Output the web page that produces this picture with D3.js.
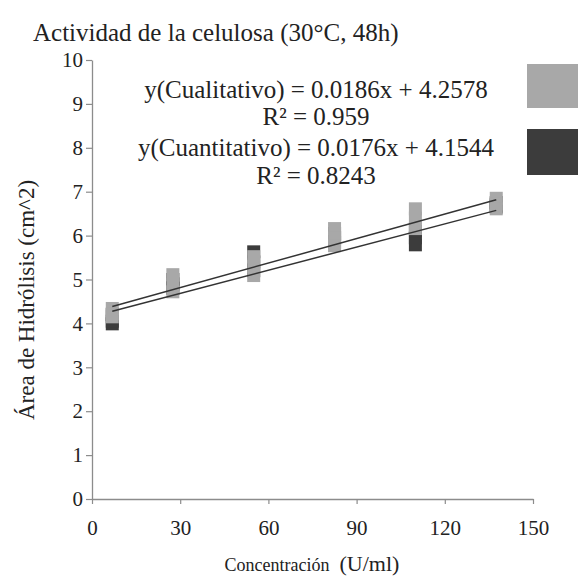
<!DOCTYPE html>
<html>
<head>
<meta charset="utf-8">
<script src="https://d3js.org/d3.v7.min.js"></script>
<style>
  body { margin: 0; background: #fff; }
  text { font-family: "Liberation Serif", "Times New Roman", serif; }
</style>
</head>
<body>
<div id="chart"></div>
<script>
// data
var concentracion = [6.9, 27.5, 55, 82.5, 110, 137.5];
var cualitativo = [
  [4.34, 4.22, 4.15],
  [5.11, 4.9, 4.72],
  [5.52, 5.3, 5.09],
  [6.16, 5.95, 5.77],
  [6.61, 6.4, 6.16],
  [6.85, 6.72, 6.61]
];
var cuantitativo = [
  [3.99, 4.05, 4.2],
  [4.8, 4.9, 5.0],
  [5.63, 5.4, 5.2],
  [5.85, 5.95, 6.05],
  [5.79, 5.95, 6.1],
  [6.65, 6.7, 6.75]
];
var xTicks = [0, 30, 60, 90, 120, 150];
var yTicks = [0, 1, 2, 3, 4, 5, 6, 7, 8, 9, 10];
var fitCuali = { m: 0.0186, b: 4.2578 };
var fitCuanti = { m: 0.0176, b: 4.1544 };

var svgWidth = 578;
var svgHeight = 578;

var margin = { top: 60, right: 45, bottom: 79, left: 92 };
var width = svgWidth - margin.left - margin.right;
var height = svgHeight - margin.top - margin.bottom;

var lightColor = "#a8a8a8";
var darkColor = "#3c3c3c";
var markerSize = 13;

var svg = d3.select("#chart")
  .append("svg")
  .attr("width", svgWidth)
  .attr("height", svgHeight);

var chartGroup = svg.append("g")
  .attr("transform", `translate(${margin.left}, ${margin.top})`);

var xScale = d3.scaleLinear().domain([0, 150]).range([0, width]);
var yScale = d3.scaleLinear().domain([0, 10]).range([height, 0]);

// axes
var bottomAxis = d3.axisBottom(xScale).tickValues(xTicks).tickSize(5).tickSizeOuter(0);
var leftAxis = d3.axisLeft(yScale).tickValues(yTicks).tickSize(6).tickSizeOuter(0);

var xAxis = chartGroup.append("g")
  .attr("transform", `translate(0, ${height})`)
  .call(bottomAxis);

var yAxis = chartGroup.append("g")
  .call(leftAxis);

[xAxis, yAxis].forEach(function(ax) {
  ax.select(".domain").attr("stroke", "#8c8c8c").attr("stroke-width", 1.3);
  ax.selectAll(".tick line").attr("stroke", "#8c8c8c").attr("stroke-width", 1.2);
  ax.selectAll(".tick text")
    .attr("fill", "#222")
    .style("font-size", "21px")
    .style("font-family", "Liberation Serif, serif");
});
xAxis.selectAll(".tick text").attr("dy", "1.35em");
yAxis.selectAll(".tick text").attr("x", -9);

// flatten the points: one row per marker
function toPoints(values) {
  var pts = [];
  concentracion.forEach(function(x, i) {
    values[i].forEach(function(v) { pts.push({ x: x, y: v }); });
  });
  return pts;
}

// Cuantitativo drawn first, Cualitativo on top
chartGroup.append("g").selectAll("rect")
  .data(toPoints(cuantitativo))
  .enter()
  .append("rect")
  .attr("x", d => xScale(d.x) - markerSize / 2)
  .attr("y", d => yScale(d.y) - markerSize / 2)
  .attr("width", markerSize)
  .attr("height", markerSize)
  .attr("fill", darkColor);

chartGroup.append("g").selectAll("rect")
  .data(toPoints(cualitativo))
  .enter()
  .append("rect")
  .attr("x", d => xScale(d.x) - markerSize / 2)
  .attr("y", d => yScale(d.y) - markerSize / 2)
  .attr("width", markerSize)
  .attr("height", markerSize)
  .attr("fill", lightColor);

// trend lines
var xMin = d3.min(concentracion);
var xMax = d3.max(concentracion);
[fitCuali, fitCuanti].forEach(function(f) {
  chartGroup.append("line")
    .attr("x1", xScale(xMin))
    .attr("y1", yScale(f.m * xMin + f.b))
    .attr("x2", xScale(xMax))
    .attr("y2", yScale(f.m * xMax + f.b))
    .attr("stroke", "#333")
    .attr("stroke-width", 1.5);
});

// equations
var eqLines = [
  { t: "y(Cualitativo) = 0.0186x + 4.2578", y: 98 },
  { t: "R² = 0.959", y: 125 },
  { t: "y(Cuantitativo) = 0.0176x + 4.1544", y: 156 },
  { t: "R² = 0.8243", y: 184 }
];
svg.append("g").selectAll("text")
  .data(eqLines)
  .enter()
  .append("text")
  .attr("x", 316)
  .attr("y", d => d.y)
  .attr("text-anchor", "middle")
  .attr("fill", "#222")
  .style("font-size", "25px")
  .text(d => d.t);

// legend swatches, cut off by the right edge
svg.append("rect")
  .attr("x", 527).attr("y", 64)
  .attr("width", 60).attr("height", 44)
  .attr("fill", lightColor);
svg.append("rect")
  .attr("x", 527).attr("y", 129)
  .attr("width", 60).attr("height", 46)
  .attr("fill", darkColor);

// title
svg.append("text")
  .attr("x", 33)
  .attr("y", 41)
  .attr("fill", "#222")
  .style("font-size", "25px")
  .text("Actividad de la celulosa (30°C, 48h)");

// y axis label
svg.append("text")
  .attr("transform", "translate(34, 300) rotate(-90)")
  .attr("text-anchor", "middle")
  .attr("fill", "#222")
  .style("font-size", "23px")
  .text("Área de Hidrólisis (cm^2)");

// x axis label
var xLabel = svg.append("text")
  .attr("x", 312)
  .attr("y", 571)
  .attr("text-anchor", "middle")
  .attr("fill", "#222");
xLabel.append("tspan").style("font-size", "18px").text("Concentración");
xLabel.append("tspan").style("font-size", "22px").attr("dx", 10).text("(U/ml)");
</script>
</body>
</html>
